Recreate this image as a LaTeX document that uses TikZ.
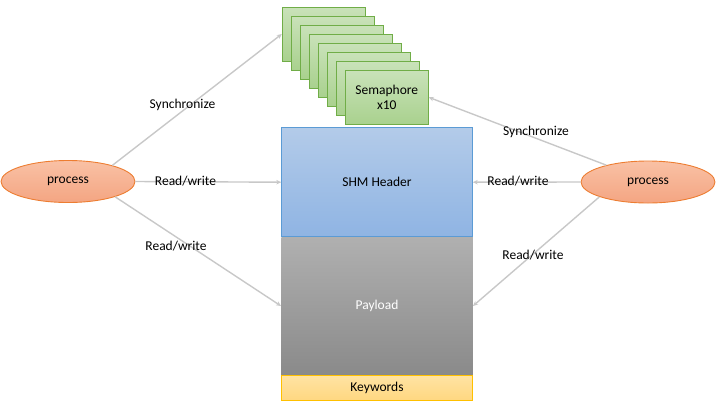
\documentclass[tikz,border=0pt]{standalone}
\usepackage{fontspec}
\setmainfont{Carlito}
\usetikzlibrary{arrows.meta,shapes.geometric}
\definecolor{arr}{HTML}{C8C8C8}
\definecolor{gbd}{HTML}{70AD47}
\definecolor{gtop}{HTML}{C9E2B9}
\definecolor{gbot}{HTML}{A9D18E}
\definecolor{bbd}{HTML}{5B9BD5}
\definecolor{btop}{HTML}{B3CBE9}
\definecolor{bbot}{HTML}{8FB4E3}
\definecolor{ptop}{HTML}{B0B0B0}
\definecolor{pbot}{HTML}{8A8A8A}
\definecolor{ybd}{HTML}{FFC000}
\definecolor{ytop}{HTML}{FFE3A3}
\definecolor{ybot}{HTML}{FFD780}
\definecolor{obd}{HTML}{ED7D31}
\definecolor{otop}{HTML}{F9C1A5}
\definecolor{obot}{HTML}{F4A582}
\tikzset{
  txt/.style={font=\fontsize{13.5}{15}\selectfont},
  lbl/.style={txt, inner sep=0pt},
  sem/.style={txt, draw=gbd, line width=0.9pt, top color=gtop, bottom color=gbot, minimum width=83pt, minimum height=54pt, inner sep=0pt, align=center},
  proc/.style={txt, ellipse, draw=obd, line width=0.9pt, top color=otop, bottom color=obot, minimum width=134pt, minimum height=42pt, inner sep=0pt},
  conn/.style={draw=arr, line width=1.4pt, -{Stealth[length=5pt,width=4.5pt]}},
}
\begin{document}
\begin{tikzpicture}[x=1pt,y=-1pt]
\useasboundingbox (0,0) rectangle (720,405);
% semaphores
\foreach \i in {1,...,7} {
  \node[sem] (s\i) at ({323.8+(\i-1)*9}, {34+(\i-1)*9.05}) {};
}
\node[sem] (s8) at (386.8,97.3) {Semaphore\\x10};
% memory blocks
\node[txt, draw=bbd, line width=0.9pt, top color=btop, bottom color=bbot, minimum width=190.6pt, minimum height=109pt, inner sep=0pt] (hdr) at (377,182.2) {SHM Header};
\node[txt, top color=ptop, bottom color=pbot, minimum width=191.5pt, minimum height=138pt, inner sep=0pt, text=white] (pay) at (377,306) {Payload};
\node[txt, draw=ybd, line width=0.9pt, top color=ytop, bottom color=ybot, minimum width=190.6pt, minimum height=25pt, inner sep=0pt] (kw) at (377,388) {Keywords};
% processes
\node[proc] (p1) at (68,181.5) {process};
\node[proc] (p2) at (648,182) {process};
% connectors
\draw[conn] (p1.20) -- (s1.west);
\draw[conn] (p1.east) -- (hdr.west);
\draw[conn] (p1.-18) -- (pay.west);
\draw[conn] (p2.158) -- (s8.east);
\draw[conn] (p2.west) -- (hdr.east);
\draw[conn] (p2.197) -- (pay.east);
% labels
\node[lbl] (l1) at (182.5,105) {Synchronize};
\node[lbl] (l2) at (185.5,181) {Read/write};
\node[lbl] (l3) at (176,246) {Read/write};
\node[lbl] (l4) at (536,132) {Synchronize};
\node[lbl] (l5) at (518,181) {Read/write};
\node[lbl] (l6) at (533,255) {Read/write};
\end{tikzpicture}
\end{document}
